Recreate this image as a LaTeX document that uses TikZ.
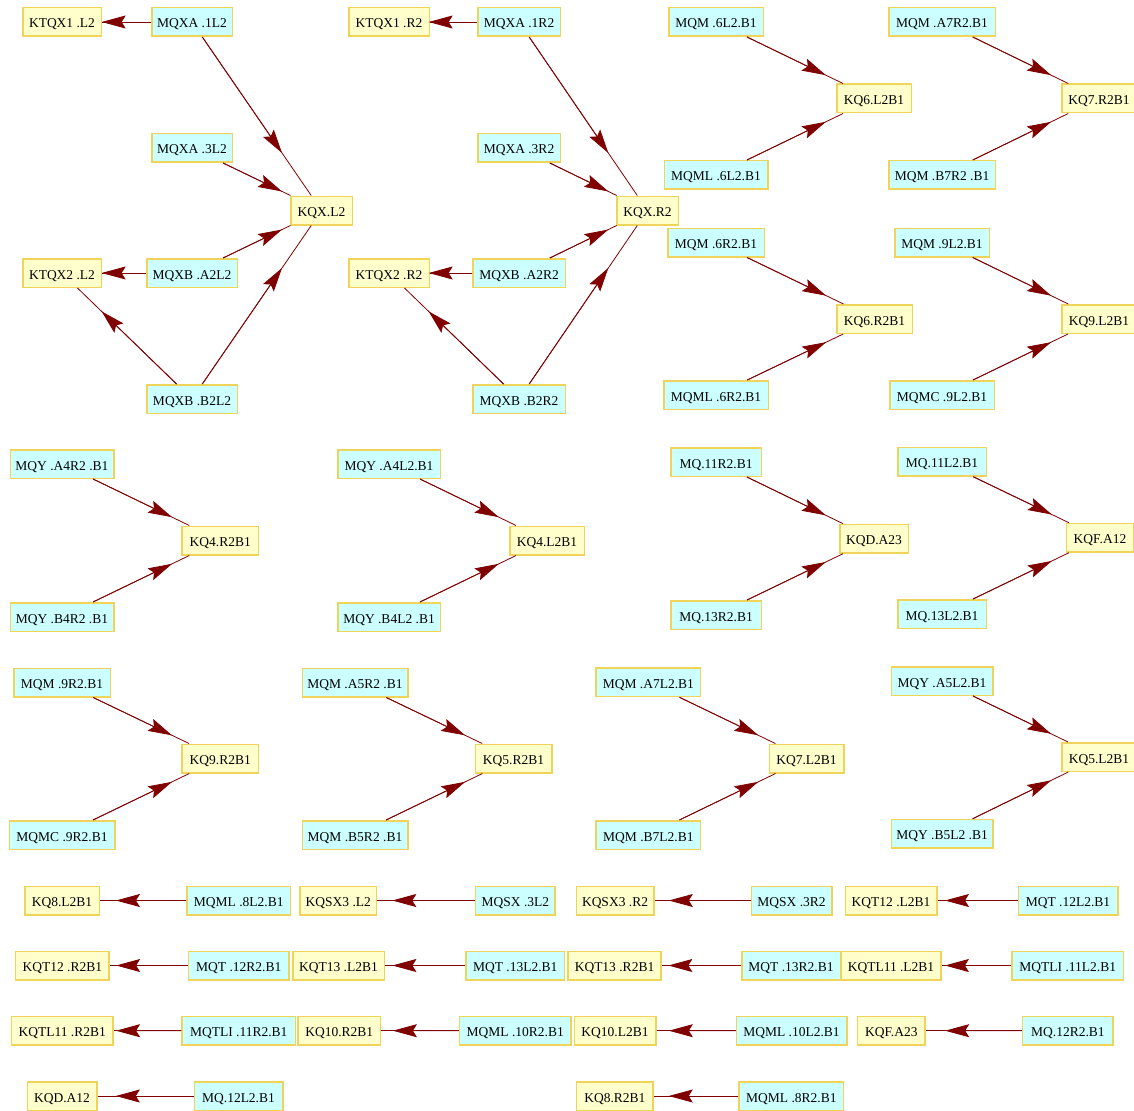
\documentclass[tikz,border=0pt]{standalone}
\usepackage{fontspec}
\setmainfont{Liberation Serif}
\usetikzlibrary{arrows.meta,calc}
\definecolor{yfill}{RGB}{255,255,204}
\definecolor{cfill}{RGB}{204,255,255}
\definecolor{bord}{RGB}{240,212,90}
\definecolor{edgec}{RGB}{128,0,0}
\tikzset{
  basebox/.style={draw=bord, line width=1.5pt, minimum height=28.5pt, inner xsep=0pt, inner ysep=0pt,
    text height=12pt, text depth=0pt,
    font=\fontsize{13.5}{16}\selectfont, text=black},
  yb/.style={basebox, fill=yfill, minimum width={(#1-1.5)*1pt}},
  cb/.style={basebox, fill=cfill, minimum width={(#1-1.5)*1pt}},
  edgeline/.style={draw=edgec, line width=0.8pt},
  tipline/.style={draw=edgec, line width=0.8pt, -{Stealth[length=24pt,width=13pt,inset=4pt]}}
}
\begin{document}
\begin{tikzpicture}[x=1pt,y=-1pt]
\useasboundingbox (0,0) rectangle (1134,1110);
% cluster 1
\node[yb=80] (ktqx1l) at (62,22) {KTQX1 .L2};
\node[cb=82] (mqxa1l) at (192,22) {MQXA .1L2};
\node[cb=82] (mqxa3l) at (192,148) {MQXA .3L2};
\node[yb=63] (kqxl) at (321.5,210.5) {KQX.L2};
\node[yb=80] (ktqx2l) at (62,273) {KTQX2 .L2};
\node[cb=92] (mqxba2l) at (192,273) {MQXB .A2L2};
\node[cb=92] (mqxbb2l) at (192,399) {MQXB .B2L2};
% cluster 2
\node[yb=82] (ktqx1r) at (389,22) {KTQX1 .R2};
\node[cb=84] (mqxa1r) at (519,22) {MQXA .1R2};
\node[cb=84] (mqxa3r) at (519,148) {MQXA .3R2};
\node[yb=63] (kqxr) at (647.5,210.5) {KQX.R2};
\node[yb=82] (ktqx2r) at (389,273) {KTQX2 .R2};
\node[cb=94] (mqxba2r) at (519,273) {MQXB .A2R2};
\node[cb=94] (mqxbb2r) at (519,399) {MQXB .B2R2};
% top right
\node[cb=96] (mqm6l) at (716,22) {MQM .6L2.B1};
\node[yb=76] (kq6l) at (874,98.5) {KQ6.L2B1};
\node[cb=105] (mqml6l) at (716,175) {MQML .6L2.B1};
\node[cb=108] (mqma7r) at (942,22) {MQM .A7R2.B1};
\node[yb=76] (kq7r) at (1099,98.5) {KQ7.R2B1};
\node[cb=108] (mqmb7r) at (942,175) {MQM .B7R2 .B1};
\node[cb=98] (mqm6r) at (716,242.5) {MQM .6R2.B1};
\node[yb=77] (kq6r) at (874.5,319) {KQ6.R2B1};
\node[cb=106] (mqml6r) at (716,395) {MQML .6R2.B1};
\node[cb=96] (mqm9l) at (942,242.5) {MQM .9L2.B1};
\node[yb=76] (kq9l) at (1099,319) {KQ9.L2B1};
\node[cb=106] (mqmc9l) at (942,395) {MQMC .9L2.B1};
% row 2
\node[cb=105] (mqya4r) at (62,464) {MQY .A4R2 .B1};
\node[yb=78] (kq4r) at (220.3,540.5) {KQ4.R2B1};
\node[cb=105] (mqyb4r) at (62,617) {MQY .B4R2 .B1};
\node[cb=104] (mqya4l) at (389,464) {MQY .A4L2.B1};
\node[yb=76] (kq4l) at (547,540.5) {KQ4.L2B1};
\node[cb=104] (mqyb4l) at (389,617) {MQY .B4L2 .B1};
\node[cb=92] (mq11r) at (716,462) {MQ.11R2.B1};
\node[yb=70] (kqda23) at (874,538.7) {KQD.A23};
\node[cb=92] (mq13r) at (716,615) {MQ.13R2.B1};
\node[cb=90] (mq11l) at (942,461.7) {MQ.11L2.B1};
\node[yb=69] (kqfa12) at (1100,537.7) {KQF.A12};
\node[cb=90] (mq13l) at (942,614) {MQ.13L2.B1};
% row 3
\node[cb=98] (mqm9r) at (62,682.5) {MQM .9R2.B1};
\node[yb=78] (kq9r) at (220.3,758.5) {KQ9.R2B1};
\node[cb=107] (mqmc9r) at (62,835) {MQMC .9R2.B1};
\node[cb=107] (mqma5r) at (355,682.5) {MQM .A5R2 .B1};
\node[yb=78] (kq5r) at (513.5,758.5) {KQ5.R2B1};
\node[cb=107] (mqmb5r) at (355,835) {MQM .B5R2 .B1};
\node[cb=106] (mqma7l) at (648.4,682.3) {MQM .A7L2.B1};
\node[yb=76] (kq7l) at (806.5,758.5) {KQ7.L2B1};
\node[cb=106] (mqmb7l) at (648.4,835) {MQM .B7L2.B1};
\node[cb=103] (mqya5l) at (942,681) {MQY .A5L2.B1};
\node[yb=76] (kq5l) at (1099,757) {KQ5.L2B1};
\node[cb=103] (mqyb5l) at (942,833.7) {MQY .B5L2 .B1};
% bottom row A
\node[yb=76] (kq8l) at (62,900.5) {KQ8.L2B1};
\node[cb=105] (mqml8l) at (238.8,900.5) {MQML .8L2.B1};
\node[yb=78] (kqsx3l) at (338.3,900.5) {KQSX3 .L2};
\node[cb=81] (mqsx3l) at (515.4,900.5) {MQSX .3L2};
\node[yb=79] (kqsx3r) at (615,900.5) {KQSX3 .R2};
\node[cb=82] (mqsx3r) at (791.5,900.5) {MQSX .3R2};
\node[yb=93] (kqt12l) at (891,900.5) {KQT12 .L2B1};
\node[cb=101] (mqt12l) at (1068,900.5) {MQT .12L2.B1};
% bottom row B
\node[yb=95] (kqt12r) at (62.3,965.5) {KQT12 .R2B1};
\node[cb=102] (mqt12r) at (238.8,965.5) {MQT .12R2.B1};
\node[yb=93] (kqt13l) at (338.5,965.5) {KQT13 .L2B1};
\node[cb=100] (mqt13l) at (515.2,965.5) {MQT .13L2.B1};
\node[yb=94.5] (kqt13r) at (614.5,965.5) {KQT13 .R2B1};
\node[cb=100] (mqt13r) at (791,965.5) {MQT .13R2.B1};
\node[yb=101] (kqtl11l) at (891,965.5) {KQTL11 .L2B1};
\node[cb=113] (mqtli11l) at (1067.7,965.5) {MQTLI .11L2.B1};
% bottom row C
\node[yb=103] (kqtl11r) at (62.2,1030.7) {KQTL11 .R2B1};
\node[cb=115] (mqtli11r) at (238.8,1030.7) {MQTLI .11R2.B1};
\node[yb=84] (kq10r) at (339.2,1030.7) {KQ10.R2B1};
\node[cb=113] (mqml10r) at (515.2,1030.7) {MQML .10R2.B1};
\node[yb=83] (kq10l) at (615,1030.7) {KQ10.L2B1};
\node[cb=112] (mqml10l) at (791.5,1030.7) {MQML .10L2.B1};
\node[yb=69] (kqfa23) at (891.3,1030.7) {KQF.A23};
\node[cb=92] (mq12r) at (1067.9,1030.7) {MQ.12R2.B1};
% bottom row D
\node[yb=71] (kqda12) at (62,1096) {KQD.A12};
\node[cb=90] (mq12l) at (238.5,1096) {MQ.12L2.B1};
\node[yb=78] (kq8r) at (614.9,1096) {KQ8.R2B1};
\node[cb=106] (mqml8r) at (791.4,1096) {MQML .8R2.B1};
% connectors
\foreach \a/\b in {mqxa1l/ktqx1l, mqxa1l/kqxl, mqxa3l/kqxl, mqxba2l/kqxl, mqxba2l/ktqx2l, mqxbb2l/ktqx2l, mqxbb2l/kqxl,
  mqxa1r/ktqx1r, mqxa1r/kqxr, mqxa3r/kqxr, mqxba2r/kqxr, mqxba2r/ktqx2r, mqxbb2r/ktqx2r, mqxbb2r/kqxr,
  mqm6l/kq6l, mqml6l/kq6l, mqma7r/kq7r, mqmb7r/kq7r, mqm6r/kq6r, mqml6r/kq6r, mqm9l/kq9l, mqmc9l/kq9l,
  mqya4r/kq4r, mqyb4r/kq4r, mqya4l/kq4l, mqyb4l/kq4l, mq11r/kqda23, mq13r/kqda23, mq11l/kqfa12, mq13l/kqfa12,
  mqm9r/kq9r, mqmc9r/kq9r, mqma5r/kq5r, mqmb5r/kq5r, mqma7l/kq7l, mqmb7l/kq7l, mqya5l/kq5l, mqyb5l/kq5l,
  mqml8l/kq8l, mqsx3l/kqsx3l, mqsx3r/kqsx3r, mqt12l/kqt12l,
  mqt12r/kqt12r, mqt13l/kqt13l, mqt13r/kqt13r, mqtli11l/kqtl11l,
  mqtli11r/kqtl11r, mqml10r/kq10r, mqml10l/kq10l, mq12r/kqfa23,
  mq12l/kqda12, mqml8r/kq8r}
{
  \draw[edgeline] (\a) -- (\b);
  \draw[tipline] (\a) -- ($(\a)!0.695!(\b)$);
}
\end{tikzpicture}
\end{document}
